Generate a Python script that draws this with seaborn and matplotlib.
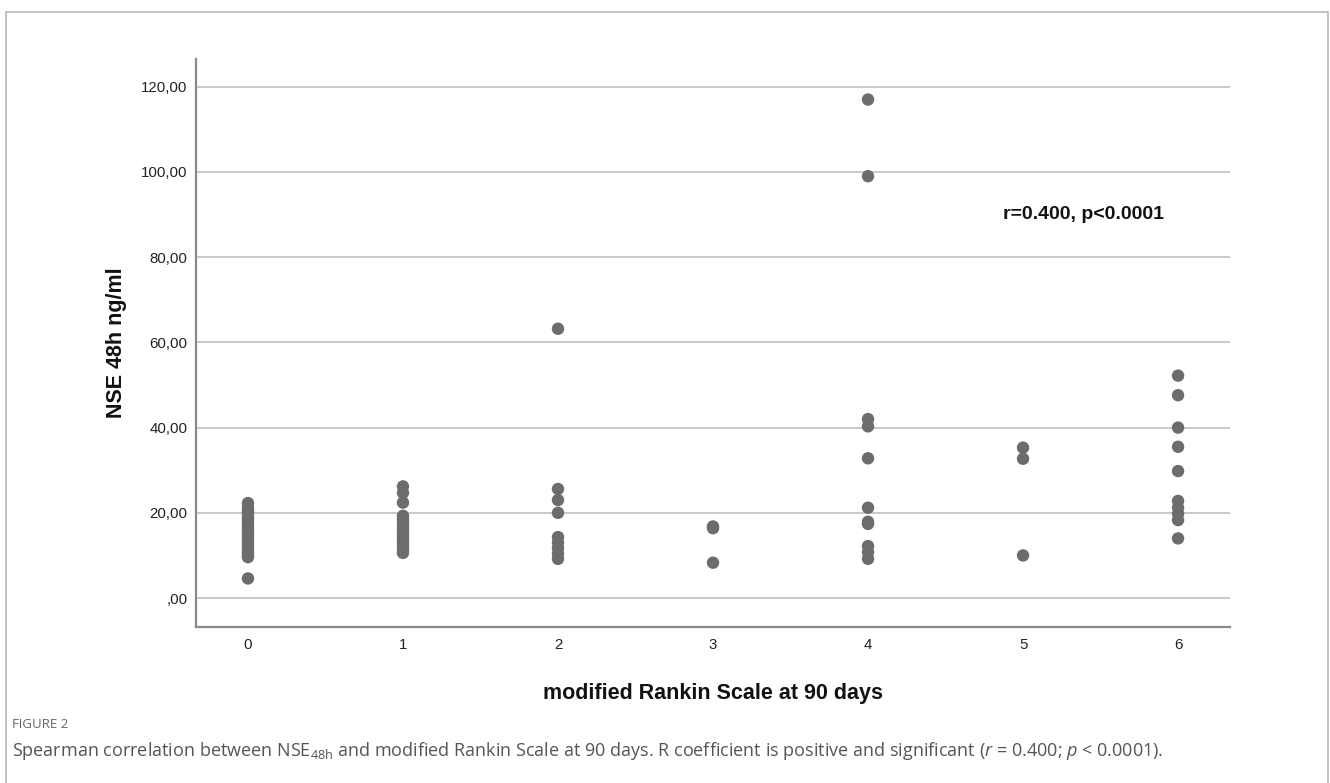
import numpy as np
import pandas as pd
import matplotlib
matplotlib.use("Agg")
import matplotlib.pyplot as plt
import seaborn as sns
from matplotlib.lines import Line2D

# ---- data ----
categories = [0, 1, 2, 3, 4, 5, 6]
mrs0 = [22.3, 21.2, 20.3, 19.4, 18.6, 17.8, 17.0, 16.3, 15.6, 14.9, 14.2, 13.5,
        12.8, 12.1, 11.4, 10.8, 10.2, 9.6, 4.6]
mrs1 = [26.2, 24.7, 22.4, 19.3, 18.5, 17.7, 16.9, 16.1, 15.3, 14.5, 13.7, 12.9,
        12.0, 11.2, 10.6]
mrs2 = [63.2, 25.6, 23.0, 20.0, 14.3, 13.0, 11.7, 10.4, 9.2]
mrs3 = [16.8, 16.4, 8.3]
mrs4 = [117.0, 99.0, 42.0, 40.3, 32.8, 21.2, 17.9, 17.4, 12.2, 10.8, 9.2]
mrs5 = [35.3, 32.7, 10.0]
mrs6 = [52.2, 47.6, 40.0, 35.5, 29.8, 22.8, 21.2, 19.8, 18.3, 14.0]
yticks = [0, 20, 40, 60, 80, 100, 120]
ytick_labels = [",00", "20,00", "40,00", "60,00", "80,00", "100,00", "120,00"]
xlabel = "modified Rankin Scale at 90 days"
ylabel = "NSE 48h ng/ml"
annotation = "r=0.400, p<0.0001"
fig_label = "FIGURE 2"
caption = (r"Spearman correlation between NSE$_\mathregular{48h}$ and modified Rankin "
           r"Scale at 90 days. R coefficient is positive and significant "
           r"($r$ = 0.400; $p$ < 0.0001).")

groups = [mrs0, mrs1, mrs2, mrs3, mrs4, mrs5, mrs6]
df = pd.DataFrame({
    "mrs": np.concatenate([[c] * len(g) for c, g in zip(categories, groups)]),
    "nse": np.concatenate(groups),
})

sns.set_theme(style="white")
plt.rcParams["font.family"] = ["Liberation Sans", "DejaVu Sans"]
plt.rcParams["mathtext.fontset"] = "custom"
plt.rcParams["mathtext.rm"] = "Open Sans"
plt.rcParams["mathtext.it"] = "Open Sans:italic"

fig = plt.figure(figsize=(13.3, 7.83), dpi=100)
fig.patch.set_facecolor("white")
ax = fig.add_axes([0.1474, 0.1992, 0.7774, 0.7254])

for y in yticks:
    ax.axhline(y, color="#c9c9c9", lw=1.4, zorder=0)

sns.scatterplot(data=df, x="mrs", y="nse", ax=ax, color="#6c6c6c", s=80,
                edgecolor="none", linewidth=0, zorder=3, legend=False)

ax.set_xlim(-0.335, 6.335)
ax.set_ylim(-6.8, 126.5)
ax.set_xticks(categories)
ax.set_xticklabels([str(c) for c in categories], fontsize=10.8, color="#222222")
ax.set_yticks(yticks)
ax.set_yticklabels(ytick_labels, fontsize=10.8, color="#222222")
ax.tick_params(axis="x", length=0, pad=8)
ax.tick_params(axis="y", length=0, pad=6)
for side in ["top", "right"]:
    ax.spines[side].set_visible(False)
for side in ["left", "bottom"]:
    ax.spines[side].set_color("#8a8a8a")
    ax.spines[side].set_linewidth(1.6)

ax.set_xlabel(xlabel, fontsize=15.5, fontweight="bold", color="#111111", labelpad=22)
ax.set_ylabel(ylabel, fontsize=15.5, fontweight="bold", color="#111111", labelpad=10)

ax.text(4.87, 90.0, annotation, fontsize=14, fontweight="bold", color="#111111",
        ha="left", va="center")

# caption
fig.text(12 / 1330, 1 - 725 / 783, fig_label, fontsize=9.5, color="#666666",
         family="Open Sans", va="center", ha="left")
fig.text(12 / 1330, 1 - 751 / 783, caption, fontsize=13, color="#555555",
         family="Open Sans", va="center", ha="left")

# outer frame (left, top, right)
frame_kw = dict(color="#bdbdbd", lw=1.3, transform=fig.transFigure)
fig.lines.append(Line2D([6 / 1330, 6 / 1330], [0, 1 - 12 / 783], **frame_kw))
fig.lines.append(Line2D([6 / 1330, 1328 / 1330], [1 - 12 / 783, 1 - 12 / 783], **frame_kw))
fig.lines.append(Line2D([1328 / 1330, 1328 / 1330], [0, 1 - 12 / 783], **frame_kw))

fig.savefig("out.png", dpi=100, facecolor="white")
